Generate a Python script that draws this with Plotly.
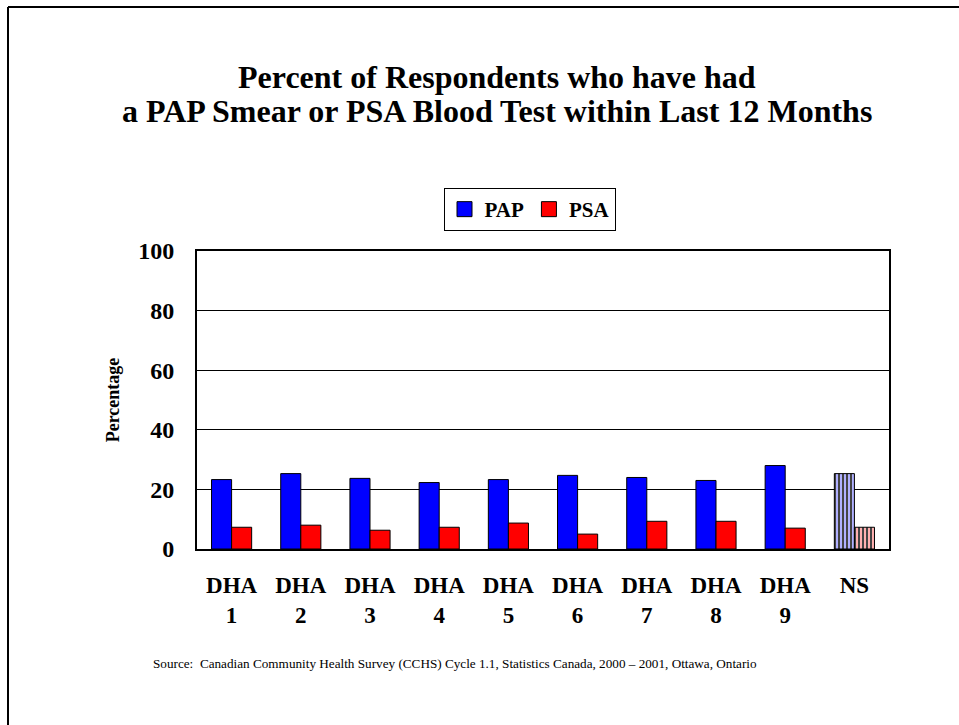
import plotly.graph_objects as go

categories = ["DHA<br>1", "DHA<br>2", "DHA<br>3", "DHA<br>4", "DHA<br>5",
              "DHA<br>6", "DHA<br>7", "DHA<br>8", "DHA<br>9", "NS"]
pap_values = [23.3, 25.3, 23.7, 22.3, 23.3, 24.7, 24.0, 23.0, 28.0, 25.3]
psa_values = [7.3, 8.0, 6.3, 7.3, 8.7, 5.0, 9.3, 9.3, 7.0, 7.3]
y_ticks = [0, 20, 40, 60, 80, 100]
series_names = ["PAP", "PSA"]
series_colors = ["#0000ff", "#ff0000"]
title_lines = ["Percent of Respondents who have had",
               "a PAP Smear or PSA Blood Test within Last 12 Months"]
source_text = ("Source:  Canadian Community Health Survey (CCHS) Cycle 1.1, "
               "Statistics Canada, 2000 \u2013 2001, Ottawa, Ontario")

n = len(categories)
pattern_shapes = [""] * (n - 1) + ["|"]
light_colors = ["#b0b0ff", "#ffb0b0"]

SERIF = "Liberation Serif, Times New Roman, serif"
W, H = 959, 725
plot_l, plot_r, plot_t, plot_b = 197, 889, 251, 549
pw, ph = plot_r - plot_l, plot_b - plot_t


def px_x(x):
    return (x - plot_l) / pw


def px_y(y):
    return (plot_b - y) / ph


fig = go.Figure()
for name, vals, col, light in zip(series_names, [pap_values, psa_values],
                                  series_colors, light_colors):
    fig.add_trace(go.Bar(
        x=categories, y=vals, name=name, showlegend=False,
        marker=dict(color=[col] * (n - 1) + [light], line=dict(color="black", width=1),
                    pattern=dict(shape=pattern_shapes, fgcolor=col, fgopacity=1,
                                 fillmode="overlay", size=4, solidity=0.5)),
    ))
# legend entries (square swatches like the original)
for name, col in zip(series_names, series_colors):
    fig.add_trace(go.Scatter(
        x=[None], y=[None], mode="markers", name=f"<b>{name}</b>",
        marker=dict(symbol="square", size=15, color=col, line=dict(color="black", width=1)),
    ))

annotations = [
    dict(text=f"<b>{title_lines[0]}</b>", x=px_x(497), y=px_y(77),
         xref="paper", yref="paper", showarrow=False, xanchor="center", yanchor="middle",
         font=dict(family=SERIF, size=32, color="black")),
    dict(text=f"<b>{title_lines[1]}</b>", x=px_x(497), y=px_y(111),
         xref="paper", yref="paper", showarrow=False, xanchor="center", yanchor="middle",
         font=dict(family=SERIF, size=32, color="black")),
    dict(text=source_text, x=px_x(455), y=px_y(663),
         xref="paper", yref="paper", showarrow=False, xanchor="center", yanchor="middle",
         font=dict(family=SERIF, size=13.2, color="black")),
]

fig.update_layout(
    width=W, height=H,
    paper_bgcolor="white", plot_bgcolor="white",
    margin=dict(l=plot_l, r=W - plot_r, t=plot_t, b=H - plot_b),
    barmode="group", bargap=0.42, bargroupgap=0,
    font=dict(family=SERIF, color="black"),
    legend=dict(
        orientation="h", x=px_x(529.5), xanchor="center", y=px_y(188), yanchor="top",
        bordercolor="black", borderwidth=1, bgcolor="white",
        font=dict(family=SERIF, size=21, color="black"),
        traceorder="normal", itemwidth=30, itemsizing="trace",
    ),
    xaxis=dict(
        showline=True, linecolor="black", linewidth=2, mirror=True,
        ticks="", tickfont=dict(family=SERIF, size=23, color="black"),
        tickprefix="<b>", ticksuffix="</b>",
        ticklabelstandoff=14,
    ),
    yaxis=dict(
        range=[0, 100], tickvals=y_ticks,
        ticktext=[f"<b>{v}</b>" for v in y_ticks],
        showgrid=True, gridcolor="black", gridwidth=1,
        showline=True, linecolor="black", linewidth=2, mirror=True,
        ticks="", tickfont=dict(family=SERIF, size=24, color="black"),
        ticklabelstandoff=16,
        title=dict(text="<b>Percentage</b>", font=dict(family=SERIF, size=18, color="black"),
                   standoff=14),
    ),
    annotations=annotations,
    shapes=[
        dict(type="line", xref="paper", yref="paper",
             x0=px_x(8), x1=px_x(1000), y0=px_y(7), y1=px_y(7),
             line=dict(color="black", width=2), layer="below"),
        dict(type="line", xref="paper", yref="paper",
             x0=px_x(8), x1=px_x(8), y0=px_y(7), y1=px_y(760),
             line=dict(color="black", width=2), layer="below"),
    ],
)

fig.write_html("out.html", config={"displayModeBar": False},
               post_script="document.body.style.margin='0px';")
